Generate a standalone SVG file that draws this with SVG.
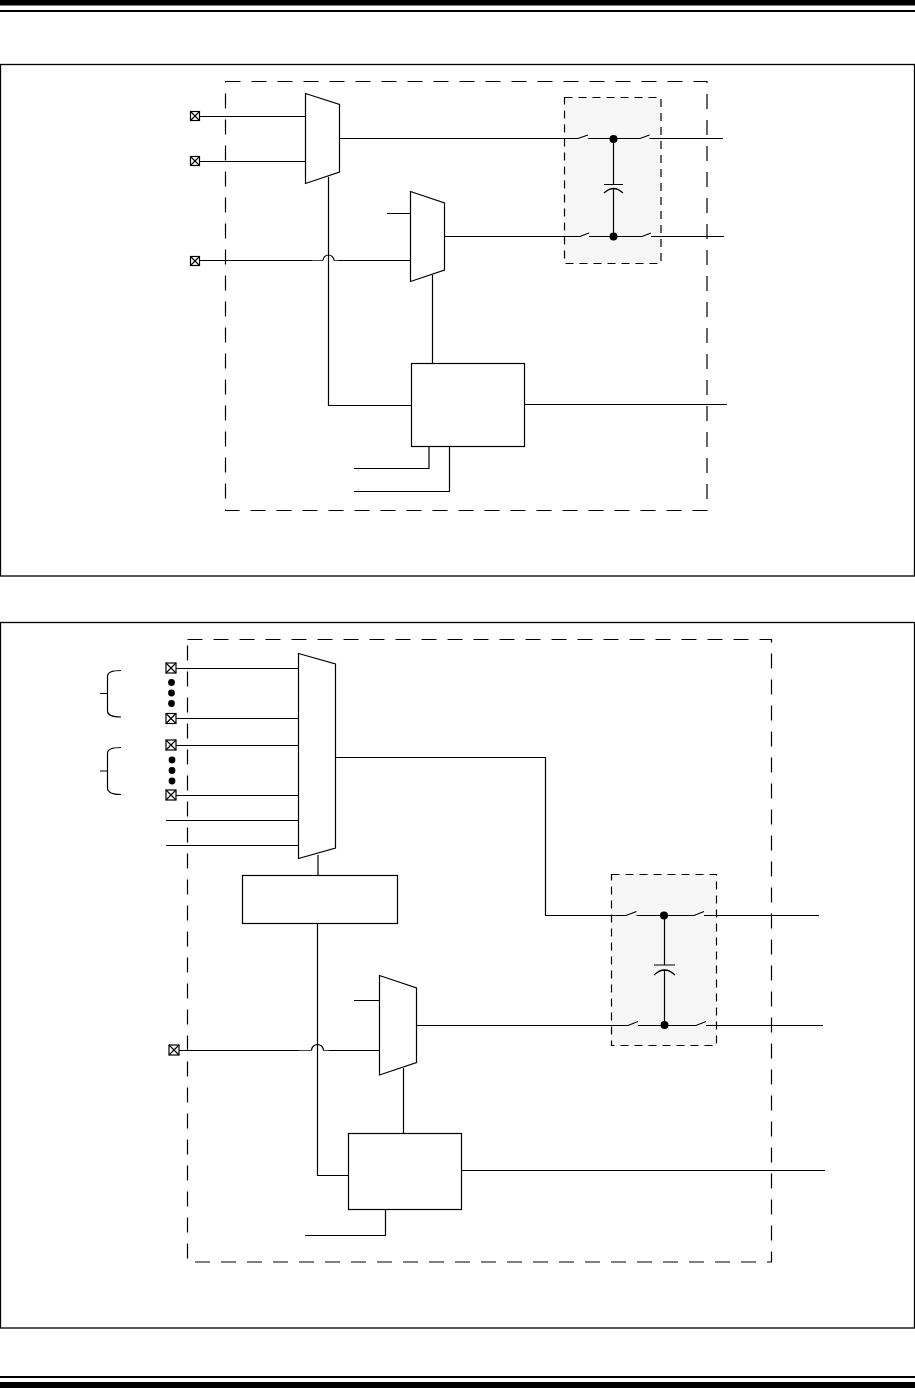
<svg xmlns="http://www.w3.org/2000/svg" width="915" height="1388" viewBox="0 0 915 1388">
<defs>
<style>
.l{fill:none;stroke:#000;stroke-width:1.2}
.g{fill:none;stroke:#444;stroke-width:1}
.b{fill:#fff;stroke:#000;stroke-width:1.2}
.d{fill:none;stroke:#000;stroke-width:1.2;stroke-dasharray:15 11}
.s{fill:#f6f6f6;stroke:#000;stroke-width:1.2;stroke-dasharray:8 6}
.dot{fill:#000;stroke:none}
.frame{fill:#fff;stroke:#000;stroke-width:1.3}
</style>
<g id="pin"><rect class="b" x="-4.5" y="-4.5" width="9" height="9"/><path class="l" d="M-4.5-4.5L4.5 4.5M-4.5 4.5L4.5-4.5"/></g>
<g id="pinb"><rect class="b" x="-5" y="-5" width="10" height="10"/><path class="l" d="M-5-5L5 5M-5 5L5-5"/></g>
</defs>
<rect width="915" height="1388" fill="#fff"/>
<g id="page-rules">
<rect x="0" y="0" width="915" height="5.5" fill="#000"/>
<rect x="0" y="10" width="915" height="2" fill="#000"/>
<rect x="0" y="1376" width="915" height="2" fill="#000"/>
<rect x="0" y="1382" width="915" height="6" fill="#000"/>
</g>
<g id="panel-1"><rect class="frame" x="0.5" y="64.5" width="914" height="511.5"/></g>
<g id="panel-2"><rect class="frame" x="0.5" y="622.5" width="914" height="705.5"/></g>
<g id="boundary-1"><rect class="d" x="225.5" y="81.5" width="481.5" height="429"/></g>
<g id="boundary-2"><rect class="d" x="187.5" y="639.5" width="584" height="622.5"/></g>
<g id="sh-1"><rect class="s" x="564.5" y="97.5" width="96.5" height="166"/></g>
<g id="sh-2"><rect class="s" x="611.5" y="874.5" width="105" height="171"/></g>
<g id="connectors">
<path class="l" d="M199.500 116.500H306M199.500 161.500H306M199.500 260.500H312"/>
<path class="g" d="M312 260.500H323M334 260.500H338"/>
<path class="l" d="M323 260.500A5.500 5.500 0 0 1 334 260.500M338 260.500H411"/>
<path class="l" d="M328.500 177V405.500H412"/>
<path class="l" d="M340 138.500H578M578 138.500L588 135M588 138.500H640L649.500 135M649.500 138.500H723"/>
<path class="l" d="M444.500 236.500H580L589 233M589 236.500H642L651 233M651 236.500H724"/>
<path class="l" d="M613.500 139V184.500M604 184.500H623M604 193Q613.500 184 623 193M613.500 189V236.500"/>
<circle class="dot" cx="613.500" cy="139" r="4"/><circle class="dot" cx="613.500" cy="236.500" r="4"/>
<path class="l" d="M387 213.500H411M432.500 275V363.500M525 404.500H727"/>
<path class="l" d="M354 468.500H429V447M354 491.500H449.500V447"/>
<path class="l" d="M176 668.500H299M176 718.500H299M176 745.500H299M176 795.500H299M166 820.500H299M166 845.500H299"/>
<circle class="dot" cx="171.500" cy="682.500" r="3.400"/><circle class="dot" cx="171.500" cy="693" r="3.400"/><circle class="dot" cx="171.500" cy="703.500" r="3.400"/>
<circle class="dot" cx="172" cy="760" r="3.400"/><circle class="dot" cx="172" cy="770.500" r="3.400"/><circle class="dot" cx="172" cy="781" r="3.400"/>
<path class="l" d="M121 670.500Q107.500 670.500 107.500 676V711Q107.500 717 121 717M107.500 693.500H100"/>
<path class="l" d="M121 747.500Q107.500 747.500 107.500 753V788Q107.500 794.500 121 794.500M107.500 771H100"/>
<path class="l" d="M336 757.500H545.500V915.500H626L636.500 911.500M636.500 915.500H694L704 911.500M704 915.500H819"/>
<path class="l" d="M417 1025.500H628L638 1021.500M638 1025.500H696L706 1021.500M706 1025.500H823"/>
<path class="l" d="M664.500 915.500V965M654 965H675M654 975Q664.500 965 675 975M664.500 970V1025"/>
<circle class="dot" cx="664" cy="915.500" r="4"/><circle class="dot" cx="664.500" cy="1025" r="4"/>
<path class="l" d="M318 855V875.500M317.500 923.500V1175.500H348"/>
<path class="l" d="M179 1050.500H299"/>
<path class="g" d="M299 1050.500H311.500M323.500 1050.500H329"/>
<path class="l" d="M311.500 1050.500A6 6 0 0 1 323.500 1050.500M329 1050.500H380"/>
<path class="l" d="M354 1000.500H380M403.500 1068V1133.500M462 1170.500H825M305 1235.500H385.500V1210"/>
</g>
<g id="pin-1"><use href="#pin" x="195" y="116"/></g>
<g id="pin-2"><use href="#pin" x="195" y="161"/></g>
<g id="pin-3"><use href="#pin" x="195" y="261"/></g>
<g id="mux-1"><polygon class="b" points="305.500,93.500 339.500,104.500 339.500,172 305.500,183.500"/></g>
<g id="mux-2"><polygon class="b" points="410.500,191.500 444.500,203 444.500,270 410.500,281.500"/></g>
<g id="block-1"><rect class="b" x="411.500" y="363.500" width="113" height="83"/></g>
<g id="pin-4"><use href="#pinb" x="171" y="668"/></g>
<g id="pin-5"><use href="#pinb" x="171" y="718.500"/></g>
<g id="pin-6"><use href="#pinb" x="171" y="745"/></g>
<g id="pin-7"><use href="#pinb" x="171" y="795"/></g>
<g id="pin-8"><use href="#pinb" x="174" y="1050"/></g>
<g id="mux-3"><polygon class="b" points="298.500,653.500 335.500,664 335.500,848 298.500,858.500"/></g>
<g id="mux-4"><polygon class="b" points="379.500,975.500 416.500,988 416.500,1062.500 379.500,1075"/></g>
<g id="block-2"><rect class="b" x="242.500" y="875.500" width="155" height="48"/></g>
<g id="block-3"><rect class="b" x="348.500" y="1133.500" width="113" height="76"/></g>
</svg>
